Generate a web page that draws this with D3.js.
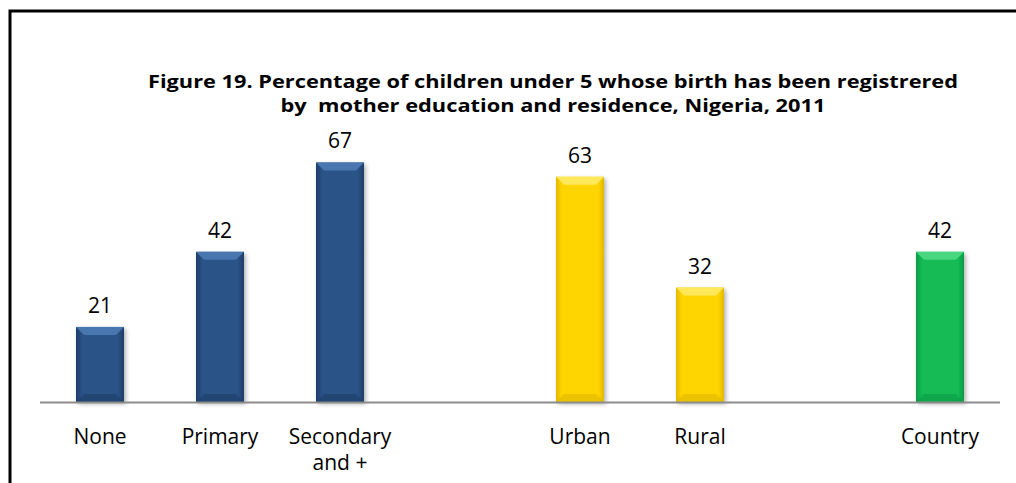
<!DOCTYPE html>
<html>
<head>
<meta charset="utf-8">
<script src="https://cdn.jsdelivr.net/npm/d3@7"></script>
<style>
  body { margin: 0; background: #fff; }
  svg { display: block; font-family: "Open Sans", "Noto Sans", sans-serif; }
</style>
</head>
<body>
<svg width="1016" height="483"></svg>
<script>
  // categories, blank slots keep the gaps between the groups
  const categories = ["None", "Primary", "Secondary\nand +", "gap1", "Urban", "Rural", "gap2", "Country"];
  const values = [21, 42, 67, null, 63, 32, null, 42];
  const groups = ["edu", "edu", "edu", null, "res", "res", null, "all"];
  const titleLines = [
    "Figure 19. Percentage of children under 5 whose birth has been registrered",
    "by  mother education and residence, Nigeria, 2011"
  ];
  const titleWidths = [810, 545];

  const colors = {
    edu: { base: "#2a5287", light: "#4a76b0", dark: "#1c3d68" },
    res: { base: "#ffd500", light: "#ffe85a", dark: "#e0b800" },
    all: { base: "#12bb55", light: "#48d67f", dark: "#0c9a44" }
  };

  const svg = d3.select("svg");
  const baseY = 402;

  // frame
  svg.append("rect")
    .attr("x", 10).attr("y", 11)
    .attr("width", 1030).attr("height", 500)
    .attr("fill", "none")
    .attr("stroke", "#000")
    .attr("stroke-width", 3);

  // title
  svg.append("g").selectAll("text")
    .data(titleLines)
    .join("text")
    .attr("x", 553)
    .attr("y", (d, i) => 88 + i * 23.5)
    .attr("text-anchor", "middle")
    .attr("font-weight", "bold")
    .attr("font-size", 17)
    .attr("textLength", (d, i) => titleWidths[i])
    .attr("lengthAdjust", "spacingAndGlyphs")
    .style("white-space", "pre")
    .text(d => d);

  const x = d3.scaleBand()
    .domain(categories)
    .range([40, 1000])
    .paddingInner(0.6)
    .paddingOuter(0.3);

  const y = d3.scaleLinear()
    .domain([0, 80])
    .range([baseY, baseY - 80 * 3.575]);

  const defs = svg.append("defs");
  Object.keys(colors).forEach(k => {
    const c = colors[k];
    const gr = defs.append("linearGradient").attr("id", "side-" + k)
      .attr("x1", 0).attr("x2", 1).attr("y1", 0).attr("y2", 0);
    gr.append("stop").attr("offset", 0).attr("stop-color", c.dark);
    gr.append("stop").attr("offset", 0.12).attr("stop-color", c.base);
    gr.append("stop").attr("offset", 0.88).attr("stop-color", c.base);
    gr.append("stop").attr("offset", 1).attr("stop-color", c.dark);
  });
  const shadow = defs.append("filter").attr("id", "shadow")
    .attr("x", -0.3).attr("y", -0.3).attr("width", 1.6).attr("height", 1.6);
  shadow.append("feDropShadow")
    .attr("dx", 2).attr("dy", 2).attr("stdDeviation", 2)
    .attr("flood-color", "#000").attr("flood-opacity", 0.3);

  const data = categories.map((c, i) => ({ cat: c, v: values[i], g: groups[i] }))
    .filter(d => d.v != null);

  const bw = x.bandwidth();
  const bev = 8;

  const bars = svg.append("g").selectAll("g")
    .data(data)
    .join("g");

  bars.append("rect")
    .attr("x", d => x(d.cat))
    .attr("y", d => y(d.v))
    .attr("width", bw)
    .attr("height", d => baseY - y(d.v))
    .attr("fill", d => "url(#side-" + d.g + ")")
    .attr("filter", "url(#shadow)");

  // top bevel
  bars.append("path")
    .attr("d", d => {
      const x0 = x(d.cat), y0 = y(d.v);
      return "M" + x0 + "," + y0 + "L" + (x0 + bw) + "," + y0 +
        "L" + (x0 + bw - bev) + "," + (y0 + bev) + "L" + (x0 + bev) + "," + (y0 + bev) + "Z";
    })
    .attr("fill", d => colors[d.g].light);

  // bottom bevel
  bars.append("path")
    .attr("d", d => {
      const x0 = x(d.cat);
      return "M" + x0 + "," + baseY + "L" + (x0 + bw) + "," + baseY +
        "L" + (x0 + bw - bev) + "," + (baseY - bev) + "L" + (x0 + bev) + "," + (baseY - bev) + "Z";
    })
    .attr("fill", d => colors[d.g].dark)
    .attr("opacity", 0.6);

  // value labels
  svg.append("g").selectAll("text")
    .data(data)
    .join("text")
    .attr("x", d => x(d.cat) + bw / 2)
    .attr("y", d => y(d.v) - 14)
    .attr("text-anchor", "middle")
    .attr("font-size", 21)
    .attr("fill", "#000")
    .text(d => d.v);

  // axis line
  svg.append("line")
    .attr("x1", 40).attr("x2", 1000)
    .attr("y1", baseY + 0.5).attr("y2", baseY + 0.5)
    .attr("stroke", "#8c8c8c")
    .attr("stroke-width", 2);

  // category labels
  svg.append("g").selectAll("text")
    .data(data)
    .join("text")
    .attr("x", d => x(d.cat) + bw / 2)
    .attr("y", 444)
    .attr("text-anchor", "middle")
    .attr("font-size", 21)
    .attr("fill", "#000")
    .selectAll("tspan")
    .data(d => d.cat.split("\n").map(t => ({ t: t, cx: x(d.cat) + bw / 2 })))
    .join("tspan")
    .attr("x", d => d.cx)
    .attr("dy", (d, i) => i === 0 ? 0 : 26)
    .text(d => d.t);
</script>
</body>
</html>
